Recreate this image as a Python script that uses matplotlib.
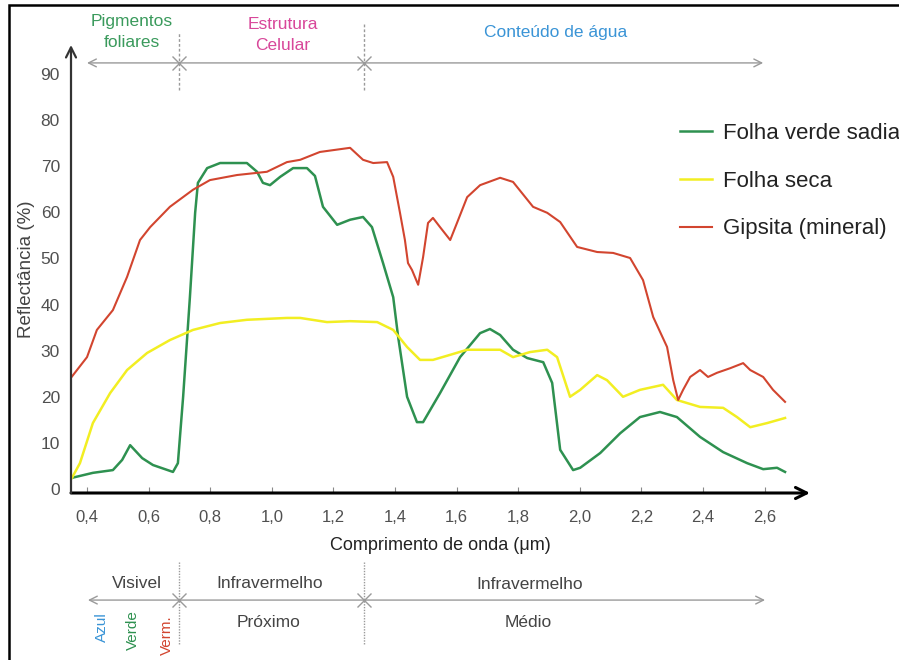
import matplotlib
matplotlib.use("Agg")
import matplotlib.pyplot as plt
from matplotlib.patches import Rectangle

plt.rcParams['font.family'] = ['Liberation Sans', 'DejaVu Sans']

# Comprimento de onda (um) e reflectancia (%) de cada curva
wl_verde = [0.350, 0.419, 0.484, 0.514, 0.540, 0.579, 0.614, 0.679, 0.695, 0.712,
            0.734, 0.751, 0.760, 0.790, 0.832, 0.919, 0.952, 0.971, 0.994, 1.027,
            1.069, 1.114, 1.140, 1.166, 1.212, 1.254, 1.296, 1.325, 1.361, 1.394,
            1.410, 1.439, 1.471, 1.491, 1.546, 1.611, 1.676, 1.708, 1.741, 1.783,
            1.829, 1.881, 1.910, 1.936, 1.978, 2.001, 2.066, 2.131, 2.195, 2.260,
            2.315, 2.390, 2.465, 2.543, 2.595, 2.640, 2.666]
r_verde = [2.4, 3.5, 4.1, 6.3, 9.5, 6.7, 5.2, 3.7, 5.6, 20.0,
           41.6, 59.9, 66.4, 69.6, 70.7, 70.7, 68.8, 66.4, 65.9, 67.7,
           69.6, 69.6, 67.9, 61.2, 57.3, 58.4, 59.0, 56.8, 49.0, 41.6,
           33.0, 20.0, 14.5, 14.5, 20.8, 28.6, 33.8, 34.7, 33.4, 30.2,
           28.4, 27.5, 23.0, 8.5, 4.1, 4.6, 7.8, 12.1, 15.6, 16.7,
           15.6, 11.3, 8.0, 5.6, 4.3, 4.6, 3.7]

wl_seca = [0.351, 0.377, 0.419, 0.475, 0.530, 0.595, 0.669, 0.744, 0.832, 0.919,
           1.049, 1.092, 1.179, 1.254, 1.342, 1.394, 1.439, 1.481, 1.523, 1.579,
           1.634, 1.741, 1.783, 1.838, 1.894, 1.926, 1.968, 2.001, 2.056, 2.088,
           2.140, 2.195, 2.270, 2.315, 2.390, 2.465, 2.510, 2.553, 2.608, 2.666]
r_seca = [2.4, 5.6, 14.3, 20.8, 25.8, 29.5, 32.3, 34.5, 36.0, 36.7,
          37.1, 37.1, 36.2, 36.4, 36.2, 34.5, 30.8, 28.0, 28.0, 29.1,
          30.2, 30.2, 28.6, 29.7, 30.2, 28.6, 20.0, 21.5, 24.7, 23.6,
          20.0, 21.5, 22.6, 19.3, 17.8, 17.6, 15.6, 13.4, 14.3, 15.4]

wl_gipsita = [0.350, 0.400, 0.432, 0.484, 0.530, 0.572, 0.605, 0.669, 0.744, 0.799,
              0.887, 0.984, 1.049, 1.092, 1.156, 1.254, 1.296, 1.329, 1.374, 1.394,
              1.416, 1.432, 1.442, 1.455, 1.475, 1.491, 1.507, 1.523, 1.546, 1.579,
              1.601, 1.634, 1.676, 1.741, 1.783, 1.848, 1.894, 1.936, 1.991, 2.056,
              2.108, 2.163, 2.205, 2.238, 2.283, 2.303, 2.319, 2.335, 2.358, 2.390,
              2.416, 2.445, 2.488, 2.530, 2.553, 2.595, 2.627, 2.666]
r_gipsita = [24.3, 28.6, 34.5, 38.8, 46.0, 54.0, 56.8, 61.2, 64.9, 67.0,
             68.1, 68.8, 70.9, 71.4, 73.1, 74.0, 71.4, 70.7, 70.9, 67.7,
             59.9, 54.0, 49.0, 47.5, 44.3, 50.3, 57.7, 58.8, 56.8, 54.0,
             57.7, 63.3, 65.9, 67.5, 66.6, 61.2, 59.9, 57.9, 52.5, 51.4,
             51.2, 50.1, 45.3, 37.3, 30.8, 23.6, 19.3, 21.5, 24.3, 25.8,
             24.3, 25.2, 26.2, 27.3, 25.8, 24.3, 21.5, 18.9]

xticks = [0.4, 0.6, 0.8, 1.0, 1.2, 1.4, 1.6, 1.8, 2.0, 2.2, 2.4, 2.6]
xtick_labels = ['0,4', '0,6', '0,8', '1,0', '1,2', '1,4', '1,6', '1,8', '2,0', '2,2', '2,4', '2,6']
yticks = [0, 10, 20, 30, 40, 50, 60, 70, 80, 90]

fig = plt.figure(figsize=(8.99, 6.6), dpi=100)
ax = fig.add_axes([71 / 899, 167 / 660, 739 / 899, 448 / 660])

ax.plot(wl_verde, r_verde, color='#2e9150', lw=1.8, label='Folha verde sadia')
ax.plot(wl_seca, r_seca, color='#f2ee22', lw=1.8, label='Folha seca')
ax.plot(wl_gipsita, r_gipsita, color='#d2452f', lw=1.5, label='Gipsita (mineral)')

ax.set_xlim(0.348, 2.747)
ax.set_ylim(-0.87, 96.3)
for s in ax.spines.values():
    s.set_visible(False)

# eixos com setas
ax.annotate('', xy=(1, 0), xytext=(0, 0), xycoords='axes fraction',
            arrowprops=dict(arrowstyle='->', lw=2.2, color='black', shrinkA=0, shrinkB=0,
                            mutation_scale=20))
ax.annotate('', xy=(0, 1), xytext=(0, 0), xycoords='axes fraction',
            arrowprops=dict(arrowstyle='->', lw=1.6, color='#333333', shrinkA=0, shrinkB=0,
                            mutation_scale=18))

ax.set_xticks(xticks)
ax.set_xticklabels(xtick_labels)
ax.set_yticks(yticks)
ax.tick_params(axis='x', direction='in', length=4, color='#888888', pad=12,
               labelsize=12, labelcolor='#505050')
ax.tick_params(axis='y', length=0, pad=8, labelsize=12.5, labelcolor='#505050')

ax.set_xlabel('Comprimento de onda (μm)', fontsize=13, color='#222222', labelpad=9)
ax.set_ylabel('Reflectância (%)', fontsize=13.5, color='#444444', labelpad=4)

tr = ax.get_xaxis_transform()
gray = '#9a9a9a'
fs_reg = 12.5

# regioes de cima
ax.annotate('', xy=(0.4, 0.96), xytext=(2.595, 0.96), xycoords=tr,
            arrowprops=dict(arrowstyle='<->', lw=1, color=gray, shrinkA=0, shrinkB=0,
                            mutation_scale=14), annotation_clip=False)
for xv, ytop in [(0.7, 1.027), (1.3, 1.049)]:
    ax.plot([xv, xv], [0.9, ytop], transform=tr, color=gray, lw=1, ls=(0, (2, 1.5)),
            clip_on=False)
    ax.plot([xv], [0.96], transform=tr, marker='x', ms=10, mew=1, color=gray, clip_on=False)

ax.text(0.546, 1.028, 'Pigmentos\nfoliares', transform=tr, ha='center', va='center',
        color='#3a9a5c', fontsize=fs_reg, linespacing=1.5)
ax.text(1.036, 1.023, 'Estrutura\nCelular', transform=tr, ha='center', va='center',
        color='#d8479a', fontsize=fs_reg, linespacing=1.5)
ax.text(1.92, 1.027, 'Conteúdo de água', transform=tr, ha='center', va='center',
        color='#3a94d6', fontsize=fs_reg)

# regioes de baixo
ax.annotate('', xy=(0.403, -0.239), xytext=(2.601, -0.239), xycoords=tr,
            arrowprops=dict(arrowstyle='<->', lw=1, color=gray, shrinkA=0, shrinkB=0,
                            mutation_scale=14), annotation_clip=False)
for xv in [0.7, 1.3]:
    ax.plot([xv, xv], [-0.154, -0.339], transform=tr, color=gray, lw=1, ls=(0, (1, 1)),
            clip_on=False)
    ax.plot([xv], [-0.239], transform=tr, marker='x', ms=10, mew=1, color=gray, clip_on=False)

ax.text(0.562, -0.201, 'Visivel', transform=tr, ha='center', va='center',
        color='#444444', fontsize=fs_reg)
ax.text(0.994, -0.201, 'Infravermelho', transform=tr, ha='center', va='center',
        color='#444444', fontsize=fs_reg)
ax.text(0.988, -0.288, 'Próximo', transform=tr, ha='center', va='center',
        color='#444444', fontsize=fs_reg)
ax.text(1.838, -0.205, 'Infravermelho', transform=tr, ha='center', va='center',
        color='#444444', fontsize=fs_reg)
ax.text(1.832, -0.288, 'Médio', transform=tr, ha='center', va='center',
        color='#444444', fontsize=fs_reg)
ax.text(0.449, -0.299, 'Azul', transform=tr, ha='center', va='center', rotation=90,
        color='#3a94d6', fontsize=11)
ax.text(0.549, -0.306, 'Verde', transform=tr, ha='center', va='center', rotation=90,
        color='#2e9150', fontsize=11)
ax.text(0.66, -0.317, 'Verm.', transform=tr, ha='center', va='center', rotation=90,
        color='#d2452f', fontsize=11)

ax.legend(loc='upper left', bbox_to_anchor=(680 / 899, 1 - 123 / 660),
          bbox_transform=fig.transFigure, frameon=False, fontsize=16,
          handlelength=1.45, handletextpad=0.5, labelspacing=1.2, borderpad=0,
          borderaxespad=0, labelcolor='#222222')

# moldura da figura
fig.add_artist(Rectangle((9 / 899, -0.1), 1.1, 1.1 - 5 / 660, transform=fig.transFigure,
                         fill=False, lw=1.8, edgecolor='black'))

fig.savefig('out.png', dpi=100)
